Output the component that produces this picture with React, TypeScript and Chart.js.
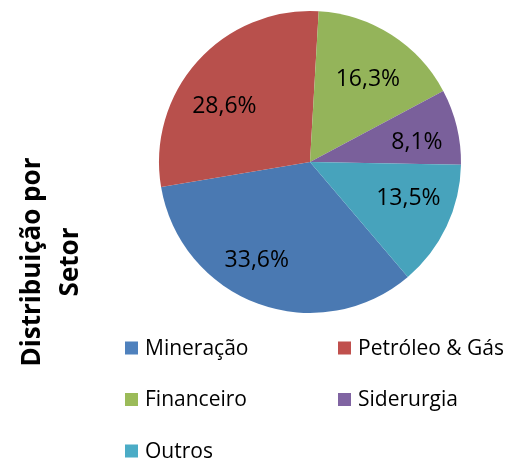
import React, { useEffect, useRef } from "react";
import { Chart, registerables } from "chart.js";

Chart.register(...registerables);

const categories = ["Mineração", "Petróleo & Gás", "Financeiro", "Siderurgia", "Outros"];
const shares = [33.6, 28.6, 16.3, 8.1, 13.5];
const sliceLabels = ["33,6%", "28,6%", "16,3%", "8,1%", "13,5%"];
const titleLines = ["Distribuição por", "Setor"];

const sliceColors = ["#4A79B2", "#B8504C", "#94B45A", "#7A609B", "#47A3BC"];
const swatchColors = ["#4F81BD", "#C0504D", "#9BBB59", "#8064A2", "#4BACC6"];
// label placement style: angular nudge (deg) and radial fraction per slice
const labelNudgeDeg = [8.4, -9, 2.3, 3.2, -5];
const labelRadiusFrac = [0.74, 0.675, 0.67, 0.72, 0.695];

const FONT = "'Open Sans', 'Liberation Sans', sans-serif";

const overlayPlugin = {
  id: "overlay",
  afterDatasetsDraw(chart: any) {
    const ctx = chart.ctx as CanvasRenderingContext2D;
    const meta = chart.getDatasetMeta(0);
    ctx.save();
    // slice labels
    ctx.fillStyle = "#000";
    ctx.font = `23px ${FONT}`;
    ctx.textAlign = "center";
    ctx.textBaseline = "middle";
    meta.data.forEach((arc: any, i: number) => {
      const p = arc.getProps(["x", "y", "startAngle", "endAngle", "outerRadius"], true);
      const mid = (p.startAngle + p.endAngle) / 2 + (labelNudgeDeg[i] * Math.PI) / 180;
      const r = p.outerRadius * labelRadiusFrac[i];
      ctx.fillText(sliceLabels[i], p.x + Math.cos(mid) * r, p.y + Math.sin(mid) * r);
    });

    // title (rotated)
    ctx.font = `bold 26px ${FONT}`;
    ctx.textAlign = "center";
    ctx.textBaseline = "middle";
    ctx.save();
    ctx.translate(0, 262);
    ctx.rotate(-Math.PI / 2);
    titleLines.forEach((t, i) => {
      ctx.fillText(t, 0, 33 + i * 38);
    });
    ctx.restore();

    // legend
    ctx.font = `21px ${FONT}`;
    ctx.textAlign = "left";
    ctx.textBaseline = "middle";
    categories.forEach((c, i) => {
      const col = i % 2;
      const row = Math.floor(i / 2);
      const sx = col === 0 ? 125 : 338;
      const cy = 348 + row * 51.5;
      ctx.fillStyle = swatchColors[i];
      ctx.fillRect(sx, cy - 6.5, 13, 13);
      ctx.fillStyle = "#000";
      ctx.fillText(c, sx + 20, cy + 1);
    });
    ctx.restore();
  },
};

export default function App() {
  const ref = useRef<HTMLCanvasElement>(null);
  useEffect(() => {
    if (!ref.current) return;
    const financeiroStart = 3.3;
    const before = shares.slice(0, 2).reduce((a, b) => a + b, 0);
    const total = shares.reduce((a, b) => a + b, 0);
    const rotation = financeiroStart - (before / total) * 360;
    const chart = new Chart(ref.current, {
      type: "pie",
      data: {
        labels: categories,
        datasets: [
          {
            data: shares,
            backgroundColor: sliceColors,
            borderWidth: 0,
          },
        ],
      },
      options: {
        responsive: false,
        animation: false,
        devicePixelRatio: 1,
        rotation,
        layout: { padding: { left: 158, right: 46, top: 11, bottom: 146 } },
        plugins: {
          legend: { display: false },
          tooltip: { enabled: false },
          title: { display: false },
        },
      },
      plugins: [overlayPlugin],
    });
    return () => chart.destroy();
  }, []);
  return (
    <div style={{ position: "fixed", left: 0, top: 0, width: 508, height: 459, background: "#fff" }}>
      <canvas ref={ref} width={508} height={459} style={{ display: "block" }} />
    </div>
  );
}
